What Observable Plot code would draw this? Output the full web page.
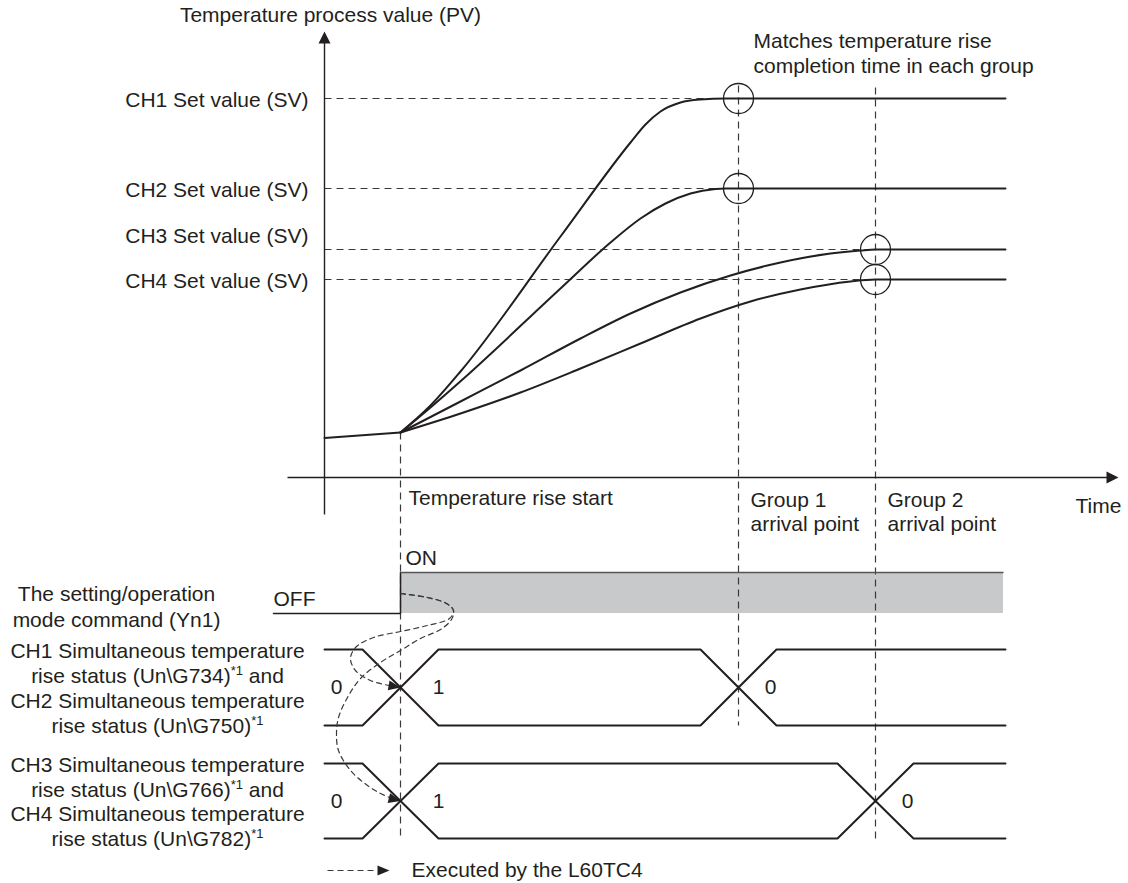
<!DOCTYPE html>
<html>
<head>
<meta charset="utf-8">
<script src="https://cdn.jsdelivr.net/npm/d3@7"></script>
<script src="https://cdn.jsdelivr.net/npm/@observablehq/plot@0.6"></script>
<style>
  html, body { margin: 0; padding: 0; background: #fff; }
  #chart svg { display: block; }
</style>
</head>
<body>
<div id="chart"></div>
<script>
// ---------------- data (time units on x, level units on y) ----------------
const channels = ["CH1", "CH2", "CH3", "CH4"];
const setValues = [379, 289, 228, 198];
const arrivalGroup = [1, 1, 2, 2];
const eventNames = ["Temperature rise start", "Group 1\narrival point", "Group 2\narrival point"];
const eventTimes = [7.6, 41.4, 55.1];
const endTime = 68.1;
const timeAxis = [-3.7, 79.4];
const pvAxis = [-37, 446];
const pvAxisTitle = "Temperature process value (PV)";
const timeAxisTitle = "Time";
const matchesLabel = "Matches temperature rise\ncompletion time in each group";

const initialPV = [[0, 39.5], [7.6, 45]];
const ch1PV = [[7.6,45],[10.6,72],[13.6,106],[23.6,241],[30.6,335],[32.1,353],[33.6,366],[35.6,375],[37.6,378],[40.1,379],[68.1,379]];
const ch2PV = [[7.6,45],[10.6,70],[13.8,98],[23.6,189],[28.6,235],[31.6,259],[34.1,274],[36.6,284],[39.1,288.5],[40.1,289],[68.1,289]];
const ch3PV = [[7.6,45],[13.6,76],[19.6,107],[25.6,139],[30.6,164],[35.6,185],[40.6,202],[45.6,215],[50.6,224],[53.6,227],[55.1,228],[68.1,228]];
const ch4PV = [[7.6,45],[13.6,64],[19.6,85],[25.6,109],[31.6,134],[37.6,159],[42.6,176],[47.6,188],[52.6,196],[55.1,198],[68.1,198]];

// setting/operation mode command (Yn1)
const yn1Label = "The setting/operation\nmode command (Yn1)";
const yn1States = ["OFF", "ON"];
const yn1Start = -5.1;
const yn1Off = -136;
const yn1On = -95;

// simultaneous temperature rise status
const statusNames = ["CH1/CH2", "CH3/CH4"];
const statusLabels = [
  "CH1 Simultaneous temperature\nrise status (Un\\G734)^*1 and\nCH2 Simultaneous temperature\nrise status (Un\\G750)^*1",
  "CH3 Simultaneous temperature\nrise status (Un\\G766)^*1 and\nCH4 Simultaneous temperature\nrise status (Un\\G782)^*1"
];
const statusHigh = [-172, -286];
const statusLow = [-248, -361];
const stateValues = ["0", "1", "0"];
const swingHalf = 3.8;

// "Executed by the L60TC4" dashed arrows
const execShared = [[7.6,-116],[10.3,-120],[12.2,-126],[12.9,-133]];
const execToGroup1 = [[12.5,-141],[10.3,-148],[7.6,-154],[4.9,-160],[3.1,-170],[2.6,-181],[3.1,-193],[4.6,-203],[6.5,-208]];
const execToGroup2 = [[12.7,-142],[11.6,-152],[9.6,-161],[7.6,-173],[5.6,-185],[3.6,-201],[2.3,-220],[1.4,-240],[1.2,-256],[1.4,-273],[2.6,-293],[4.3,-308],[5.6,-316],[6.5,-320]];
const legendText = "Executed by the L60TC4";

// ---------------- derived tables ----------------
const svRows = channels.map((ch, i) => ({ch, sv: setValues[i], t: eventTimes[arrivalGroup[i]]}));
const pvRows = [ch1PV, ch2PV, ch3PV, ch4PV].flatMap((pts, i) => pts.map(([t, v]) => ({ch: channels[i], t, v})));
const statusRows = statusNames.flatMap((g, i) => {
  const e1 = eventTimes[0], e2 = eventTimes[i + 1], H = statusHigh[i], L = statusLow[i], h = swingHalf;
  const a = [[0,H],[e1-h,H],[e1+h,L],[e2-h,L],[e2+h,H],[endTime,H]];
  const b = [[0,L],[e1-h,L],[e1+h,H],[e2-h,H],[e2+h,L],[endTime,L]];
  return [...a.map(([t, v]) => ({k: g + "a", t, v})), ...b.map(([t, v]) => ({k: g + "b", t, v}))];
});
const statusMid = statusNames.map((g, i) => ({g, mid: (statusHigh[i] + statusLow[i]) / 2, arrival: eventTimes[i + 1], label: statusLabels[i]}));
const guides = [
  {t: eventTimes[0], top: initialPV[1][1], bottom: statusLow[1]},
  {t: eventTimes[1], top: setValues[0] + 13, bottom: statusLow[0]},
  {t: eventTimes[2], top: setValues[0] + 11, bottom: statusLow[1]}
];
const eventRows = eventNames.map((n, i) => ({n, t: eventTimes[i]}));

// ---------------- styles ----------------
const ink = "#231f20";
const dashInk = "#3a3a3a";
const fs = 21;
const arrowHead = (L, W, deg) => {
  const a = deg * Math.PI / 180, c = Math.cos(a), s = Math.sin(a);
  const bx = -L * c, by = -L * s, px = -s * W / 2, py = c * W / 2;
  return {draw(ctx) { ctx.moveTo(0, 0); ctx.lineTo(bx + px, by + py); ctx.lineTo(bx - px, by - py); ctx.closePath(); }};
};
const one = [0];

const chart = Plot.plot({
  width: 1128,
  height: 883,
  margin: 0,
  x: {domain: [-32.4, 80.4], axis: null},
  y: {domain: [-406, 477], axis: null},
  style: {fontFamily: '"Liberation Sans", Arial, Helvetica, sans-serif', background: "#fff", color: ink, overflow: "visible"},
  marks: [
    // Yn1 ON area
    Plot.rect(one, {x1: () => eventTimes[0], x2: () => endTime - 0.2, y1: () => yn1Off, y2: () => yn1On, fill: "#c8c9cb"}),
    // dashed set-value lines
    Plot.link(svRows, {x1: () => 0, x2: "t", y1: "sv", y2: "sv", stroke: dashInk, strokeWidth: 1.2, strokeDasharray: "7,5"}),
    // vertical dashed guides
    Plot.link(guides, {x1: "t", x2: "t", y1: "top", y2: "bottom", stroke: dashInk, strokeWidth: 1.2, strokeDasharray: "7,5"}),
    // axes
    Plot.link(one, {x1: () => timeAxis[0], x2: () => timeAxis[1] - 0.6, y1: () => 0, y2: () => 0, stroke: ink, strokeWidth: 1.4}),
    Plot.link(one, {x1: () => 0, x2: () => 0, y1: () => pvAxis[0], y2: () => pvAxis[1] - 6, stroke: ink, strokeWidth: 1.4}),
    Plot.dot(one, {x: () => timeAxis[1], y: () => 0, symbol: arrowHead(12, 12, 0), fill: ink, stroke: "none"}),
    Plot.dot(one, {x: () => 0, y: () => pvAxis[1], symbol: arrowHead(12, 12, -90), fill: ink, stroke: "none"}),
    // PV curves
    Plot.line(initialPV, {x: d => d[0], y: d => d[1], stroke: ink, strokeWidth: 2}),
    Plot.line(pvRows, {x: "t", y: "v", z: "ch", curve: "monotone-x", stroke: ink, strokeWidth: 2}),
    Plot.dot(svRows, {x: "t", y: "sv", r: 15, stroke: ink, strokeWidth: 1.3, fill: "none"}),
    // Yn1 signal
    Plot.line([[yn1Start, yn1Off], [eventTimes[0], yn1Off], [eventTimes[0], yn1On]], {x: d => d[0], y: d => d[1], stroke: ink, strokeWidth: 1.5, strokeLinejoin: "miter"}),
    Plot.link(one, {x1: () => eventTimes[0], x2: () => endTime - 0.2, y1: () => yn1On, y2: () => yn1On, stroke: "#555", strokeWidth: 1.6}),
    // status lines
    Plot.line(statusRows, {x: "t", y: "v", z: "k", stroke: ink, strokeWidth: 2, strokeLinejoin: "miter"}),
    // executed-by dashed arrows
    Plot.line([...execShared, ...execToGroup1], {x: d => d[0], y: d => d[1], curve: "catmull-rom", stroke: dashInk, strokeWidth: 1.2, strokeDasharray: "5,4"}),
    Plot.line([...execShared, ...execToGroup2], {x: d => d[0], y: d => d[1], curve: "catmull-rom", stroke: dashInk, strokeWidth: 1.2, strokeDasharray: "5,4"}),
    Plot.dot([statusMid[0]], {x: () => eventTimes[0], y: "mid", symbol: arrowHead(12, 10, 10), fill: ink, stroke: "none"}),
    Plot.dot([statusMid[1]], {x: () => eventTimes[0], y: "mid", symbol: arrowHead(12, 10, 14), fill: ink, stroke: "none"}),
    // legend
    Plot.link(one, {x1: () => 0.3, x2: () => 5.3, y1: () => -393, y2: () => -393, stroke: dashInk, strokeWidth: 1.2, strokeDasharray: "6,4"}),
    Plot.dot(one, {x: () => 6.5, y: () => -393, symbol: arrowHead(12, 10, 0), fill: ink, stroke: "none"}),
    Plot.text([legendText], {x: () => 8.7, y: () => -393, text: d => d, textAnchor: "start", fontSize: fs, fill: ink}),
    // texts: top chart
    Plot.text([pvAxisTitle], {x: () => 0, y: () => pvAxis[1], dx: 6, dy: -16, text: d => d, fontSize: fs, fill: ink}),
    Plot.text(svRows, {x: () => 0, y: d => d.ch === "CH3" ? d.sv + 15 : d.sv, dx: -16, dy: 2, text: d => d.ch + " Set value (SV)", textAnchor: "end", fontSize: fs, fill: ink}),
    Plot.text([matchesLabel], {x: () => eventTimes[1], y: () => setValues[0], dx: 15, dy: -46, text: d => d, textAnchor: "start", lineHeight: 1.19, fontSize: fs, fill: ink}),
    Plot.text([eventRows[0]], {x: "t", y: () => 0, dx: 8, dy: 21, text: "n", textAnchor: "start", fontSize: fs, fill: ink}),
    Plot.text(eventRows.slice(1), {x: "t", y: () => 0, dx: 12, dy: 34, text: "n", textAnchor: "start", lineHeight: 1.14, fontSize: fs, fill: ink}),
    Plot.text([timeAxisTitle], {x: () => timeAxis[1], y: () => 0, dx: -43, dy: 29, text: d => d, textAnchor: "start", fontSize: fs, fill: ink}),
    // texts: timing chart
    Plot.text([yn1States[1]], {x: () => eventTimes[0], y: () => yn1On, dx: 5, dy: -14, text: d => d, textAnchor: "start", fontSize: fs, fill: ink}),
    Plot.text([yn1States[0]], {x: () => yn1Start, y: () => yn1Off, dy: -14, text: d => d, textAnchor: "start", fontSize: fs, fill: ink}),
    Plot.text([yn1Label], {x: () => 0, y: () => yn1Off, dx: -208, dy: -8, text: d => d, lineHeight: 1.24, fontSize: fs, fill: ink}),
    Plot.text(statusMid, {x: () => 0, y: "mid", dx: -167, text: "label", lineHeight: 1.19, fontSize: fs, fill: ink}),
    Plot.text(statusMid, {x: () => 0, y: "mid", dx: 12, text: () => stateValues[0], fontSize: fs, fill: ink}),
    Plot.text(statusMid, {x: () => eventTimes[0], y: "mid", dx: 38, text: () => stateValues[1], fontSize: fs, fill: ink}),
    Plot.text(statusMid, {x: "arrival", y: "mid", dx: 32, text: () => stateValues[2], fontSize: fs, fill: ink})
  ]
});

// superscript "*1"
const NS = "http://www.w3.org/2000/svg";
chart.querySelectorAll("tspan, text").forEach(el => {
  if (el.childNodes.length === 1 && el.firstChild.nodeType === 3 && el.textContent.includes("^")) {
    const parts = el.textContent.split(/\^(\*1)/);
    el.textContent = "";
    parts.forEach((p, i) => {
      if (i % 2 === 1) {
        const s = document.createElementNS(NS, "tspan");
        s.setAttribute("baseline-shift", "8");
        s.setAttribute("font-size", "13");
        s.textContent = p;
        el.appendChild(s);
      } else if (p) {
        el.appendChild(document.createTextNode(p));
      }
    });
  }
});

document.getElementById("chart").appendChild(chart);
</script>
</body>
</html>
